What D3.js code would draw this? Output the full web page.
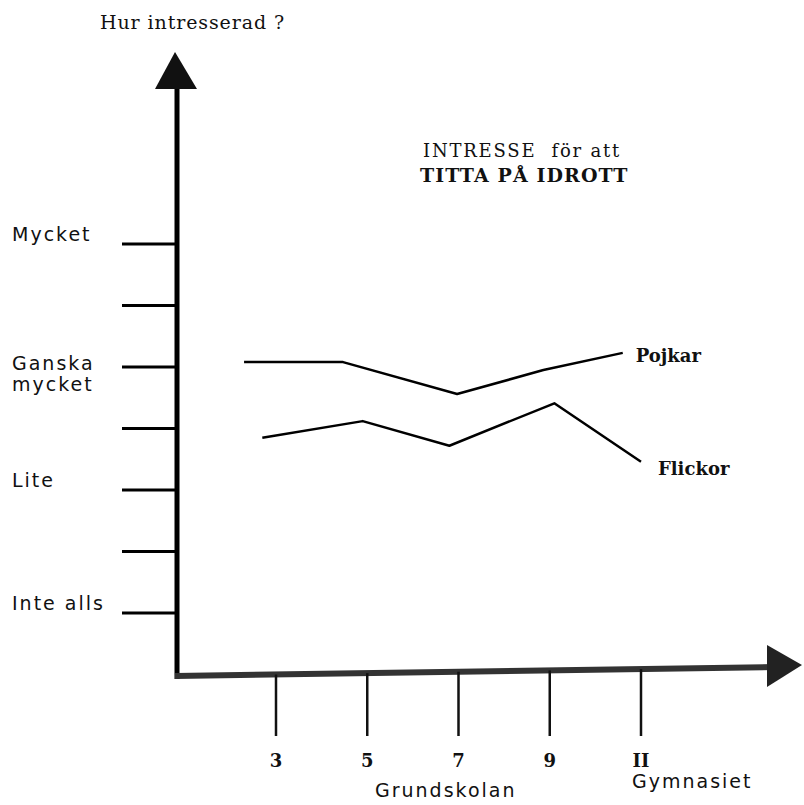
<!DOCTYPE html>
<html>
<head>
<meta charset="utf-8">
<script src="https://cdn.jsdelivr.net/npm/d3@7"></script>
<style>
  body { margin: 0; background: #fff; }
  .sans { font-family: "DejaVu Sans", sans-serif; letter-spacing: 2px; }
  .serif { font-family: "DejaVu Serif", serif; white-space: pre; }
</style>
</head>
<body>
<svg id="chart" width="804" height="805"></svg>
<script>
// interest levels (0 = Inte alls ... 6 = Mycket); only even ones are labelled
var levels = [0, 1, 2, 3, 4, 5, 6];
var levelLabels = {0: ["Inte alls"], 2: ["Lite"], 4: ["Ganska", "mycket"], 6: ["Mycket"]};

// school grades on the x axis
var grades = [3, 5, 7, 9, 11];
var gradeLabels = ["3", "5", "7", "9", "II"];

// hand drawn curves: grade position and interest level
var pojkarGrade = [2.3, 4.47, 6.97, 8.86, 10.6];
var pojkarLevel = [4.08, 4.08, 3.56, 3.95, 4.23];
var flickorGrade = [2.7, 4.9, 6.8, 9.1, 11.0];
var flickorLevel = [2.85, 3.12, 2.72, 3.41, 2.46];

var svg = d3.select("#chart");

var x = d3.scaleLinear().domain([3, 11]).range([276, 641]);
var y = d3.scaleLinear().domain([0, 6]).range([613, 244]);

var axisX = 177, axisY = 673;

// y axis line + arrow
svg.append("line")
	.attr("x1", axisX).attr("x2", axisX)
	.attr("y1", 85).attr("y2", axisY + 6)
	.attr("stroke", "#000").attr("stroke-width", 5);
svg.append("path")
	.attr("d", d3.line()([[axisX - 2, 52], [axisX - 22, 89], [axisX + 20, 89]]) + "Z")
	.attr("fill", "#111");

// x axis line (slightly tilted like the original) + arrow
svg.append("line")
	.attr("x1", axisX - 2).attr("x2", 775)
	.attr("y1", axisY + 3).attr("y2", axisY - 6)
	.attr("stroke", "#333").attr("stroke-width", 6);
svg.append("path")
	.attr("d", d3.line()([[767, 645], [802, 665], [767, 687]]) + "Z")
	.attr("fill", "#222");

// y ticks
svg.selectAll(".ytick").data(levels).enter().append("line")
	.attr("class", "ytick")
	.attr("x1", 122).attr("x2", axisX)
	.attr("y1", function(d) { return y(d); })
	.attr("y2", function(d) { return y(d); })
	.attr("stroke", "#000").attr("stroke-width", 3);

// y labels
levels.filter(function(d) { return levelLabels[d]; }).forEach(function(d) {
	var lines = levelLabels[d];
	var t = svg.append("text")
		.attr("class", "sans")
		.attr("x", 12)
		.attr("y", y(d) + (lines.length > 1 ? 3 : -3))
		.attr("font-size", 19)
		.attr("fill", "#111");
	lines.forEach(function(s, i) {
		t.append("tspan").attr("x", 12).attr("dy", i == 0 ? 0 : 21).text(s);
	});
});

// x ticks
svg.selectAll(".xtick").data(grades).enter().append("line")
	.attr("class", "xtick")
	.attr("x1", function(d) { return x(d); })
	.attr("x2", function(d) { return x(d); })
	.attr("y1", function(d) { return axisY + 3 - (x(d) - axisX) * 9 / 600; })
	.attr("y2", 736)
	.attr("stroke", "#111").attr("stroke-width", 2.5);

svg.selectAll(".xlab").data(grades).enter().append("text")
	.attr("class", "serif")
	.attr("x", function(d) { return x(d); })
	.attr("y", 767)
	.attr("text-anchor", "middle")
	.attr("font-size", 18)
	.attr("font-weight", "bold")
	.attr("fill", "#111")
	.text(function(d, i) { return gradeLabels[i]; });

svg.append("text").attr("class", "sans")
	.attr("x", 375).attr("y", 797).attr("font-size", 19).attr("fill", "#111")
	.text("Grundskolan");
svg.append("text").attr("class", "sans")
	.attr("x", 632).attr("y", 788).attr("font-size", 19).attr("fill", "#111")
	.text("Gymnasiet");

// titles
svg.append("text").attr("class", "serif")
	.attr("x", 100).attr("y", 29).attr("font-size", 19)
	.attr("letter-spacing", 0.9).attr("fill", "#111")
	.text("Hur intresserad ?");
svg.append("text").attr("class", "serif")
	.attr("x", 423).attr("y", 157).attr("font-size", 18)
	.attr("letter-spacing", 1.8).attr("fill", "#111")
	.text("INTRESSE  för att");
svg.append("text").attr("class", "serif")
	.attr("x", 420).attr("y", 182).attr("font-size", 19)
	.attr("font-weight", "bold").attr("letter-spacing", 1.1).attr("fill", "#111")
	.text("TITTA PÅ IDROTT");

// the two curves
var line = d3.line()
	.x(function(d) { return x(d[0]); })
	.y(function(d) { return y(d[1]); });

var series = [
	{name: "Pojkar", g: pojkarGrade, v: pojkarLevel, dx: 13, dy: 9},
	{name: "Flickor", g: flickorGrade, v: flickorLevel, dx: 17, dy: 13}
];

series.forEach(function(s) {
	var pts = s.g.map(function(g, i) { return [g, s.v[i]]; });
	svg.append("path")
		.attr("d", line(pts))
		.attr("fill", "none")
		.attr("stroke", "#000")
		.attr("stroke-width", 2.5)
		.attr("stroke-linejoin", "round");
	var last = pts[pts.length - 1];
	svg.append("text").attr("class", "serif")
		.attr("x", x(last[0]) + s.dx)
		.attr("y", y(last[1]) + s.dy)
		.attr("font-size", 18)
		.attr("font-weight", "bold")
		.attr("fill", "#111")
		.text(s.name);
});
</script>
</body>
</html>
